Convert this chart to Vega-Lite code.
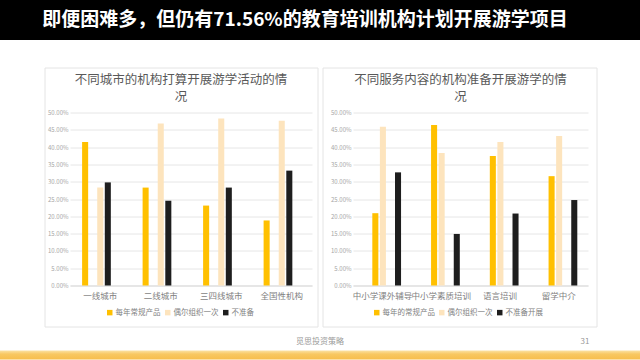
{
  "$schema": "https://vega.github.io/schema/vega-lite/v6.json",
  "padding": 0,
  "background": "white",
  "config": {
    "font": "Noto Sans CJK SC",
    "view": {"stroke": null},
    "axis": {"labelFont": "Noto Sans CJK SC"},
    "legend": {"labelFont": "Noto Sans CJK SC"}
  },
  "datasets": {
    "city": [
      {"city": "一线城市", "type": "每年常规产品", "value": 0.415},
      {"city": "一线城市", "type": "偶尔组织一次", "value": 0.283},
      {"city": "一线城市", "type": "不准备", "value": 0.298},
      {"city": "二线城市", "type": "每年常规产品", "value": 0.283},
      {"city": "二线城市", "type": "偶尔组织一次", "value": 0.468},
      {"city": "二线城市", "type": "不准备", "value": 0.245},
      {"city": "三四线城市", "type": "每年常规产品", "value": 0.231},
      {"city": "三四线城市", "type": "偶尔组织一次", "value": 0.483},
      {"city": "三四线城市", "type": "不准备", "value": 0.283},
      {"city": "全国性机构", "type": "每年常规产品", "value": 0.188},
      {"city": "全国性机构", "type": "偶尔组织一次", "value": 0.476},
      {"city": "全国性机构", "type": "不准备", "value": 0.332}
    ],
    "service": [
      {"svc": "中小学课外辅导", "type": "每年的常规产品", "value": 0.209},
      {"svc": "中小学课外辅导", "type": "偶尔组织一次", "value": 0.459},
      {"svc": "中小学课外辅导", "type": "不准备开展", "value": 0.327},
      {"svc": "中小学素质培训", "type": "每年的常规产品", "value": 0.464},
      {"svc": "中小学素质培训", "type": "偶尔组织一次", "value": 0.383},
      {"svc": "中小学素质培训", "type": "不准备开展", "value": 0.149},
      {"svc": "语言培训", "type": "每年的常规产品", "value": 0.374},
      {"svc": "语言培训", "type": "偶尔组织一次", "value": 0.415},
      {"svc": "语言培训", "type": "不准备开展", "value": 0.208},
      {"svc": "留学中介", "type": "每年的常规产品", "value": 0.316},
      {"svc": "留学中介", "type": "偶尔组织一次", "value": 0.432},
      {"svc": "留学中介", "type": "不准备开展", "value": 0.247}
    ],
    "header": [{"t": "即便困难多，但仍有71.56%的教育培训机构计划开展游学项目"}],
    "footer": [{"source": "觅思投资策略", "page": "31"}]
  },
  "columns": 1,
  "align": "none",
  "spacing": -254.5,
  "concat": [
    {
      "width": 570,
      "height": 40,
      "data": {"name": "header"},
      "layer": [
        {
          "mark": {"type": "rect", "fill": "#000000"},
          "encoding": {"x": {"value": -70}, "x2": {"value": "width"}, "y": {"value": 0}, "y2": {"value": "height"}}
        },
        {
          "mark": {"type": "rect", "fill": null, "stroke": "#e4e4e4", "strokeWidth": 1},
          "encoding": {"x": {"value": -25}, "x2": {"value": 248}, "y": {"value": 68}, "y2": {"value": 327}}
        },
        {
          "mark": {"type": "rect", "fill": null, "stroke": "#e4e4e4", "strokeWidth": 1},
          "encoding": {"x": {"value": 253}, "x2": {"value": 527}, "y": {"value": 68}, "y2": {"value": 327}}
        },
        {
          "mark": {"type": "text", "color": "white", "fontSize": 19, "fontWeight": "bold", "dx": -50},
          "encoding": {"text": {"field": "t"}}
        }
      ]
    },
    {
      "columns": 1,
      "align": "none",
      "spacing": 21,
      "concat": [
        {
          "spacing": 15,
          "hconcat": [
            {
              "width": 242,
              "height": 173,
              "data": {"name": "city"},
              "title": {"text": ["不同城市的机构打算开展游学活动的情", "况"], "fontSize": 12.5, "fontWeight": "normal", "color": "#595959", "anchor": "middle", "dx": -10, "offset": 6, "lineHeight": 17},
              "mark": {"type": "bar"},
              "encoding": {
                "x": {"field": "city", "type": "nominal", "sort": ["一线城市", "二线城市", "三四线城市", "全国性机构"],
                  "scale": {"paddingInner": 0.4, "paddingOuter": 0.2},
                  "axis": {"title": null, "labelAngle": 0, "ticks": false, "domainColor": "#d9d9d9", "labelFontSize": 8.5, "labelColor": "#7f7f7f", "labelPadding": 6}},
                "xOffset": {"field": "type", "sort": ["每年常规产品", "偶尔组织一次", "不准备"], "scale": {"paddingInner": 0.2}},
                "y": {"field": "value", "type": "quantitative", "scale": {"domain": [0, 0.5]},
                  "axis": {"title": null, "format": ".2%", "values": [0, 0.05, 0.1, 0.15, 0.2, 0.25, 0.3, 0.35, 0.4, 0.45, 0.5], "ticks": false, "domain": false, "labelFontSize": 6, "labelColor": "#a6a6a6", "labelPadding": 2, "gridColor": "#e6e6e6", "minExtent": 70}},
                "color": {"field": "type", "sort": ["每年常规产品", "偶尔组织一次", "不准备"],
                  "scale": {"domain": ["每年常规产品", "偶尔组织一次", "不准备"], "range": ["#FFC000", "#FDE4BD", "#1E1E1E"]},
                  "legend": {"title": null, "orient": "none", "legendX": 36, "legendY": 196, "direction": "horizontal", "symbolType": "square", "symbolSize": 30, "labelFontSize": 7.5, "labelColor": "#7f7f7f", "columnPadding": 3, "labelOffset": 2}}
              }
            },
            {
              "width": 235,
              "height": 173,
              "data": {"name": "service"},
              "title": {"text": ["不同服务内容的机构准备开展游学的情", "况"], "fontSize": 12.5, "fontWeight": "normal", "color": "#595959", "anchor": "middle", "dx": -10, "offset": 6, "lineHeight": 17},
              "mark": {"type": "bar"},
              "encoding": {
                "x": {"field": "svc", "type": "nominal", "sort": ["中小学课外辅导", "中小学素质培训", "语言培训", "留学中介"],
                  "scale": {"paddingInner": 0.4, "paddingOuter": 0.2},
                  "axis": {"title": null, "labelAngle": 0, "ticks": false, "domainColor": "#d9d9d9", "labelFontSize": 8.5, "labelColor": "#7f7f7f", "labelPadding": 6}},
                "xOffset": {"field": "type", "sort": ["每年的常规产品", "偶尔组织一次", "不准备开展"], "scale": {"paddingInner": 0.2}},
                "y": {"field": "value", "type": "quantitative", "scale": {"domain": [0, 0.5]},
                  "axis": {"title": null, "format": ".2%", "values": [0, 0.05, 0.1, 0.15, 0.2, 0.25, 0.3, 0.35, 0.4, 0.45, 0.5], "ticks": false, "domain": false, "labelFontSize": 6, "labelColor": "#a6a6a6", "labelPadding": 2, "gridColor": "#e6e6e6", "minExtent": 26}},
                "color": {"field": "type", "sort": ["每年的常规产品", "偶尔组织一次", "不准备开展"],
                  "scale": {"domain": ["每年的常规产品", "偶尔组织一次", "不准备开展"], "range": ["#FFC000", "#FDE4BD", "#1E1E1E"]},
                  "legend": {"title": null, "orient": "none", "legendX": 20, "legendY": 196, "direction": "horizontal", "symbolType": "square", "symbolSize": 30, "labelFontSize": 7.5, "labelColor": "#7f7f7f", "columnPadding": 3, "labelOffset": 2}}
              }
            }
          ],
          "resolve": {"scale": {"color": "independent"}, "legend": {"color": "independent"}}
        },
        {
          "width": 570,
          "height": 9,
          "data": {"name": "footer"},
          "layer": [
            {
              "mark": {"type": "rect", "fill": {"gradient": "linear", "x1": 0, "y1": 0, "x2": 0, "y2": 1, "stops": [{"offset": 0, "color": "#FBE2A4"}, {"offset": 0.4, "color": "#F8C862"}, {"offset": 1, "color": "#F7BE4D"}]}},
              "encoding": {"x": {"value": -70}, "x2": {"value": "width"}, "y": {"value": 0}, "y2": {"value": "height"}}
            },
            {
              "mark": {"type": "text", "fontSize": 8, "color": "#999999", "baseline": "bottom", "dx": -35, "dy": -5},
              "encoding": {"text": {"field": "source"}, "y": {"value": 0}}
            },
            {
              "mark": {"type": "text", "fontSize": 8, "color": "#999999", "baseline": "bottom", "dx": -55, "dy": -5},
              "encoding": {"text": {"field": "page"}, "x": {"value": "width"}, "y": {"value": 0}}
            }
          ]
        }
      ]
    }
  ]
}
